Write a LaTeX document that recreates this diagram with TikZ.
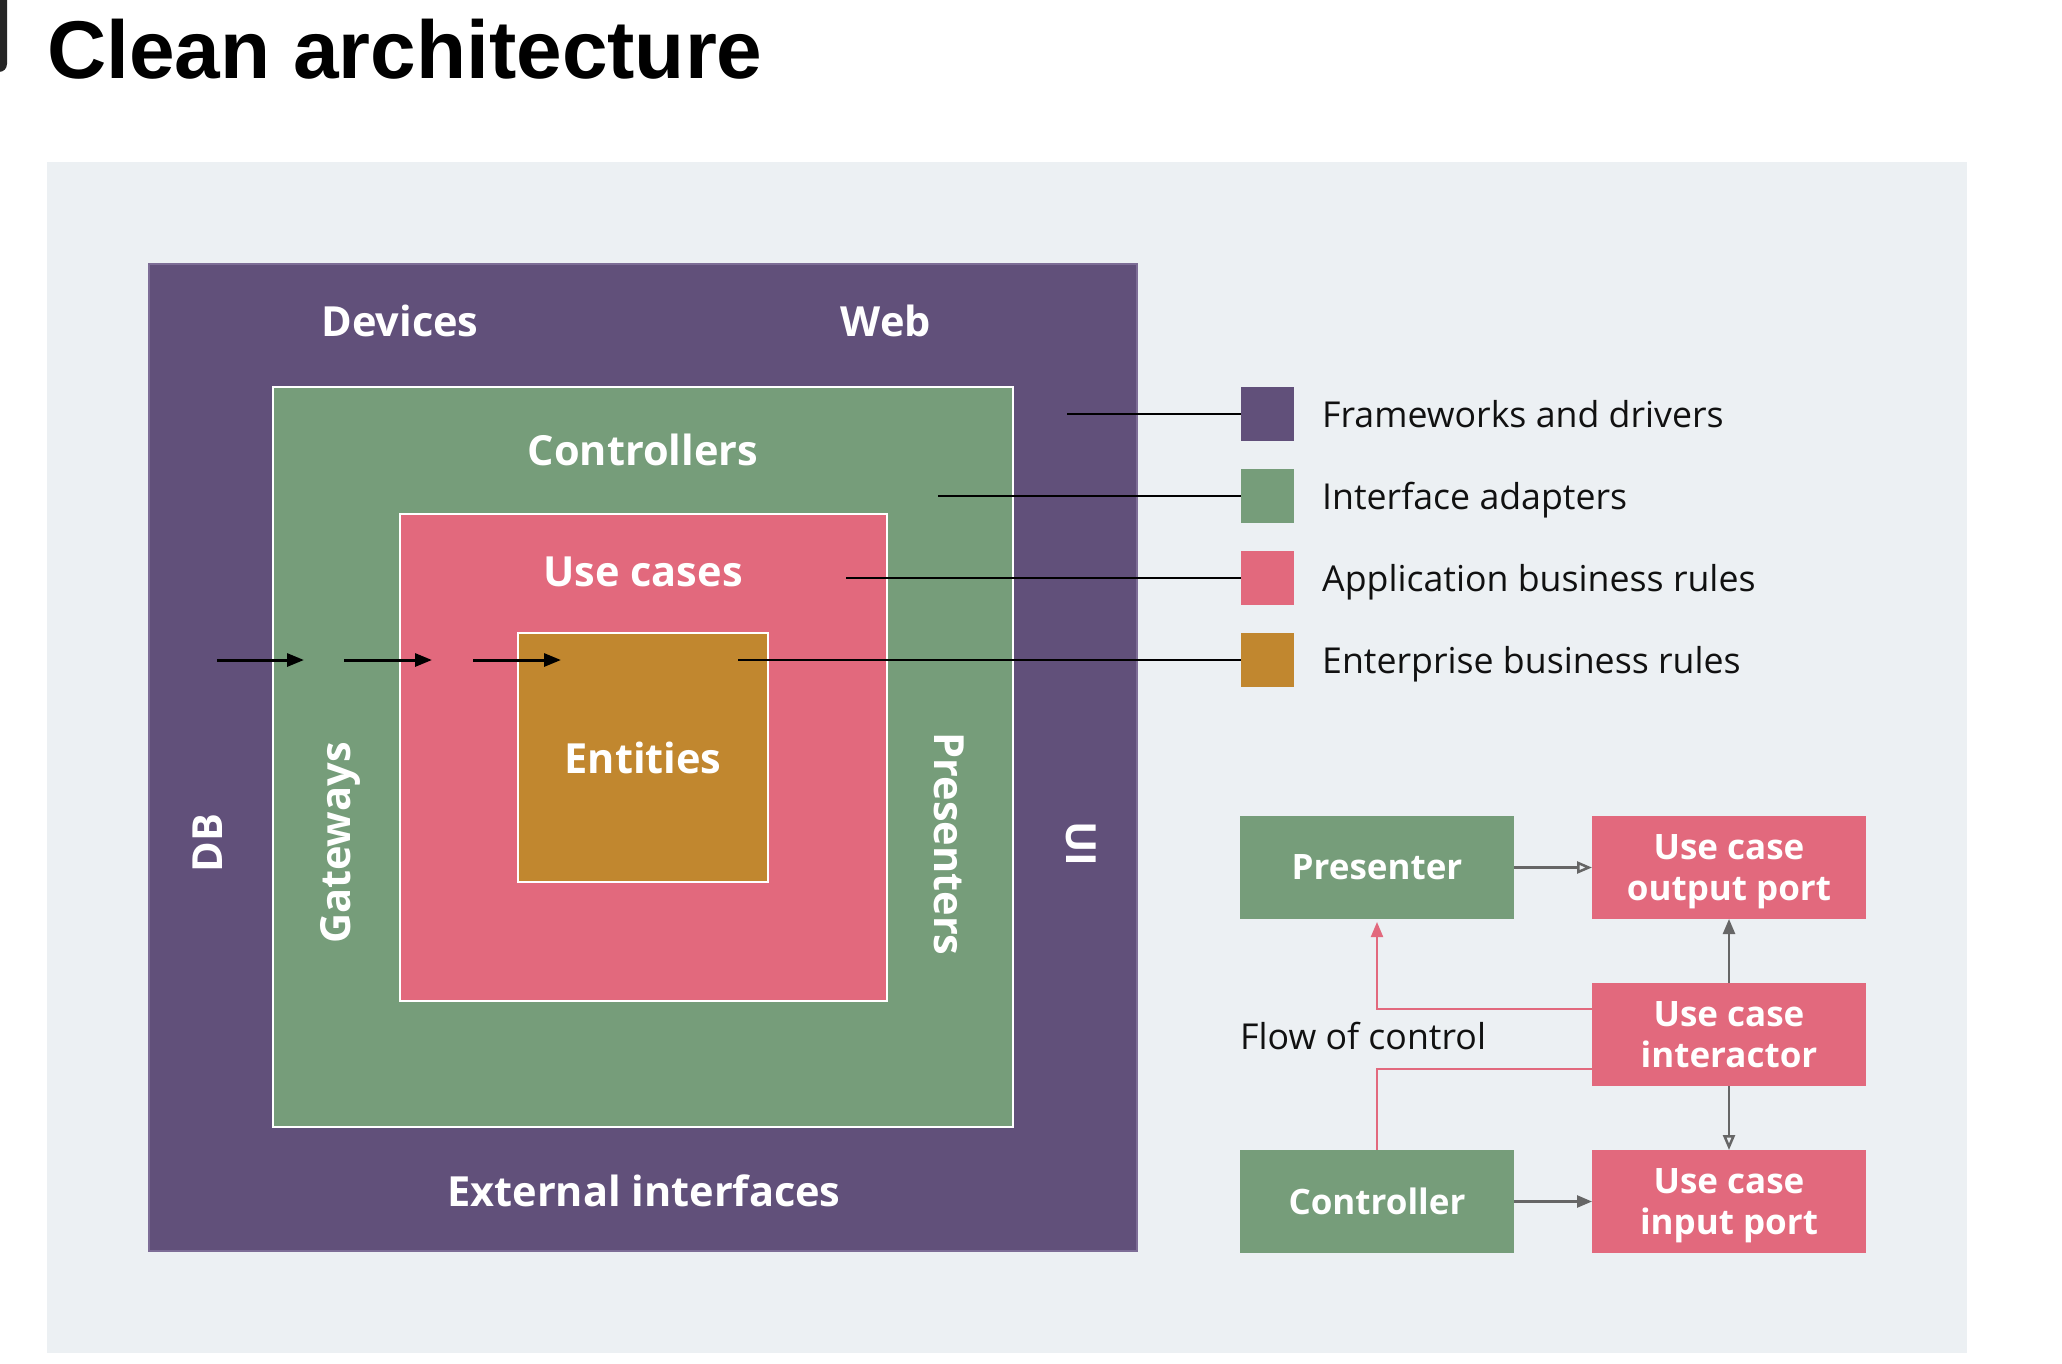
\documentclass[tikz,border=0pt]{standalone}
\usepackage{fontspec}
\setmainfont{Open Sans}
\newfontfamily\titlefont{Liberation Sans}
\usetikzlibrary{arrows.meta}
\definecolor{panelbg}{HTML}{ECF0F3}
\definecolor{purpleC}{HTML}{61507A}
\definecolor{purpleEdge}{HTML}{7D6D96}
\definecolor{greenC}{HTML}{769D7A}
\definecolor{pinkC}{HTML}{E2697D}
\definecolor{goldC}{HTML}{C1872F}
\definecolor{grayArr}{HTML}{666666}
\definecolor{inkC}{HTML}{111111}
\begin{document}
\begin{tikzpicture}[x=1pt,y=-1pt,
  layerbox/.style={anchor=north west, inner sep=0pt, outer sep=0pt},
  whiteedge/.style={draw=white, line width=2.5pt},
  biglabel/.style={text=white, font=\fontsize{41.5}{50}\selectfont\bfseries, inner sep=0pt, anchor=base},
  leglabel/.style={text=inkC, font=\fontsize{35.7}{42}\selectfont, inner sep=0pt, anchor=base west},
  legsq/.style={minimum width=53pt, minimum height=54pt, inner sep=0pt, outer sep=0pt},
  legline/.style={draw=black, line width=2.5pt},
  flowarrow/.style={draw=black, line width=3pt, -{Triangle[length=17pt, width=13pt]}},
  flowbox/.style={minimum width=274pt, minimum height=103pt, inner sep=0pt, outer sep=0pt, text=white,
    font=\fontsize{35}{41}\selectfont\bfseries, align=center, text depth=0pt},
  grayline/.style={draw=grayArr, line width=2.5pt},
  openhead/.style={-{Triangle[open, length=15pt, width=12pt]}},
  solidhead/.style={-{Triangle[length=15pt, width=12pt]}},
  pinkline/.style={draw=pinkC, line width=2pt}
]
\useasboundingbox (0,0) rectangle (2062,1364);
\fill[white] (0,0) rectangle (2062,1364);
\fill[black!85, rounded corners=8pt] (-30,-30) rectangle (7,72);

% title
\node[anchor=base west, inner sep=0pt, text=black, font=\titlefont\fontsize{82}{90}\selectfont\bfseries] (title) at (47,79) {Clean architecture};

% panel
\node[layerbox, fill=panelbg, minimum width=1920pt, minimum height=1191pt] (panel) at (47,162) {};

% concentric layers
\node[layerbox, fill=purpleC, draw=purpleEdge, line width=1.5pt, minimum width=988pt, minimum height=987pt] (fw) at (149,264) {};
\node[layerbox, fill=greenC, whiteedge, minimum width=740pt, minimum height=740pt] (ia) at (273,387) {};
\node[layerbox, fill=pinkC, whiteedge, minimum width=487pt, minimum height=487pt] (abr) at (400,514) {};
\node[layerbox, fill=goldC, whiteedge, minimum width=250pt, minimum height=249pt] (ebr) at (518,633) {};

% layer labels
\node[biglabel] (devices) at (400,337) {Devices};
\node[biglabel] (web) at (886,337) {Web};
\node[biglabel] (controllers) at (643,465) {Controllers};
\node[biglabel] (usecases) at (643,586) {Use cases};
\node[biglabel] (entities) at (643,773) {Entities};
\node[biglabel] (external) at (644,1206) {External interfaces};
\node[biglabel, rotate=90] (db) at (222,843) {DB};
\node[biglabel, rotate=90] (gateways) at (350,843) {Gateways};
\node[biglabel, rotate=-90] (presenters) at (934,844) {Presenters};
\node[biglabel, rotate=-90] (ui) at (1066,844) {UI};

% dependency arrows
\coordinate (a1s) at (217,660); \coordinate (a1e) at (304,660);
\coordinate (a2s) at (344,660); \coordinate (a2e) at (432,660);
\coordinate (a3s) at (473,660); \coordinate (a3e) at (561,660);
\draw[flowarrow] (a1s) -- (a1e);
\draw[flowarrow] (a2s) -- (a2e);
\draw[flowarrow] (a3s) -- (a3e);

% legend
\node[legsq, fill=purpleC] (sq1) at (1267.5,414) {};
\node[legsq, fill=greenC] (sq2) at (1267.5,496) {};
\node[legsq, fill=pinkC] (sq3) at (1267.5,578) {};
\node[legsq, fill=goldC] (sq4) at (1267.5,660) {};
\coordinate (l1) at (1067,414);
\coordinate (l2) at (938,496);
\coordinate (l3) at (846,578);
\coordinate (l4) at (738,660);
\draw[legline] (l1) -- (sq1.west);
\draw[legline] (l2) -- (sq2.west);
\draw[legline] (l3) -- (sq3.west);
\draw[legline] (l4) -- (sq4.west);
\node[leglabel] (t1) at (1322,427) {Frameworks and drivers};
\node[leglabel] (t2) at (1322,509) {Interface adapters};
\node[leglabel] (t3) at (1322,591) {Application business rules};
\node[leglabel] (t4) at (1322,673) {Enterprise business rules};

% flow of control diagram
\node[flowbox, fill=greenC] (presenter) at (1377,867.5) {Presenter};
\node[flowbox, fill=pinkC] (outport) at (1729,867.5) {Use case\\output port};
\node[flowbox, fill=pinkC] (interactor) at (1729,1034.5) {Use case\\interactor};
\node[flowbox, fill=greenC] (controller) at (1377,1201.5) {Controller};
\node[flowbox, fill=pinkC] (inport) at (1729,1201.5) {Use case\\input port};

\draw[grayline, openhead] (presenter.east) -- (outport.west);
\draw[grayline, solidhead] (interactor.north) -- (outport.south);
\draw[grayline, openhead] (interactor.south) -- (inport.north);
\draw[grayline, solidhead] (controller.east) -- (inport.west);

\draw[pinkline] (controller.north) |- ([yshift=-34.5pt]interactor.west);
\draw[pinkline, -{Triangle[length=15pt, width=12pt]}] ([yshift=25.5pt]interactor.west) -| ([yshift=-3pt]presenter.south);

\node[leglabel] (flowlabel) at (1240,1049) {Flow of control};
\end{tikzpicture}
\end{document}
